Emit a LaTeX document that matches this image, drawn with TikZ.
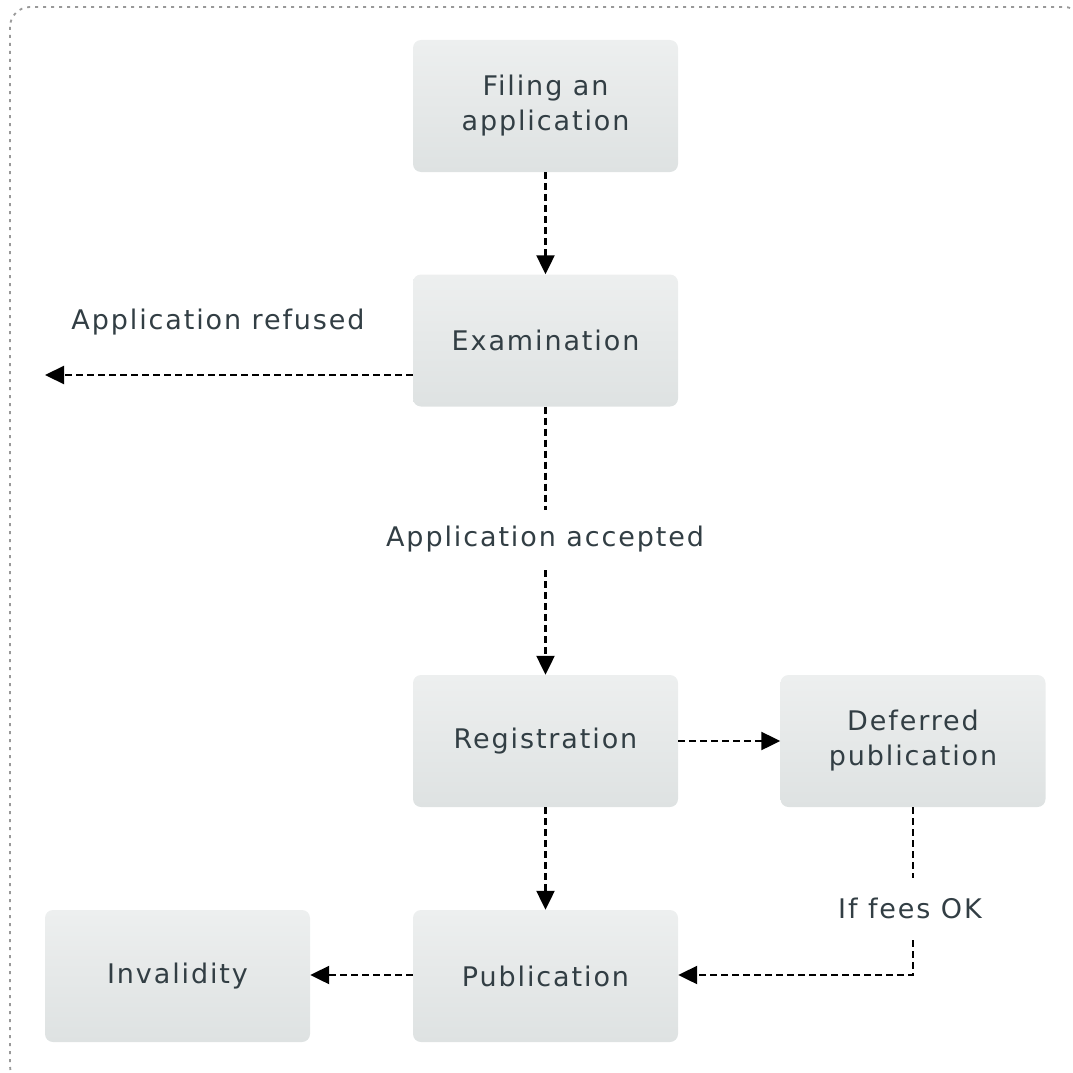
\documentclass[tikz,border=0pt]{standalone}
\usepackage{fontspec}
\setmainfont[LetterSpace=7]{DejaVu Sans}
\usetikzlibrary{arrows.meta}
\definecolor{txt}{RGB}{50,62,68}
\definecolor{boxtop}{RGB}{237,239,239}
\definecolor{boxbot}{RGB}{222,226,226}
\begin{document}
\begin{tikzpicture}[x=1pt,y=-1pt,
  box/.style={rounded corners=8pt, top color=boxtop, bottom color=boxbot, draw=none,
    minimum width=265pt, minimum height=132pt, text=txt, align=center, inner sep=0pt,
    font=\fontsize{27}{35}\selectfont},
  lbl/.style={text=txt, inner sep=0pt, font=\fontsize{27}{35}\selectfont},
  conn/.style={draw=black, line width=2.2pt, dash pattern=on 7pt off 4pt},
  arr/.style={conn, -{Triangle[length=19pt,width=18pt]}}]
\useasboundingbox (0,0) rectangle (1072,1073);
\begin{scope}
\clip (0,0) rectangle (1072,1073);
\draw[gray!80, line width=1.8pt, dash pattern=on 3pt off 5pt, rounded corners=20pt] (10,7) rectangle (1084,1086);
\end{scope}
\node[box] (file) at (545.5,106) {Filing an\\application};
\node[box] (exam) at (545.5,340.5) {Examination};
\node[box] (reg) at (545.5,741) {Registration};
\node[box] (def) at (913,741) {Deferred\\publication};
\node[box] (pub) at (545.5,976) {Publication};
\node[box] (inv) at (177.5,976) {Invalidity};
\node[lbl] (refused) at (218,322) {Application refused};
\node[lbl] (accepted) at (545,539) {Application accepted};
\node[lbl] (fees) at (910,908) {If fees OK};
\coordinate (refend) at (45,375);
\coordinate (corner) at (913,975);
\draw[arr] (file.south) -- (exam.north);
\draw[arr] (exam.west |- refend) -- (refend);
\draw[conn] (exam.south) -- (545.5,510);
\draw[arr] (545.5,570) -- (reg.north);
\draw[arr] (reg.east) -- (def.west);
\draw[arr] (reg.south) -- (pub.north);
\draw[conn] (def.south) -- (913,878);
\draw[arr] (913,940) -- (corner) -- (pub.east |- corner);
\draw[arr] (pub.west |- corner) -- (inv.east |- corner);
\end{tikzpicture}
\end{document}
